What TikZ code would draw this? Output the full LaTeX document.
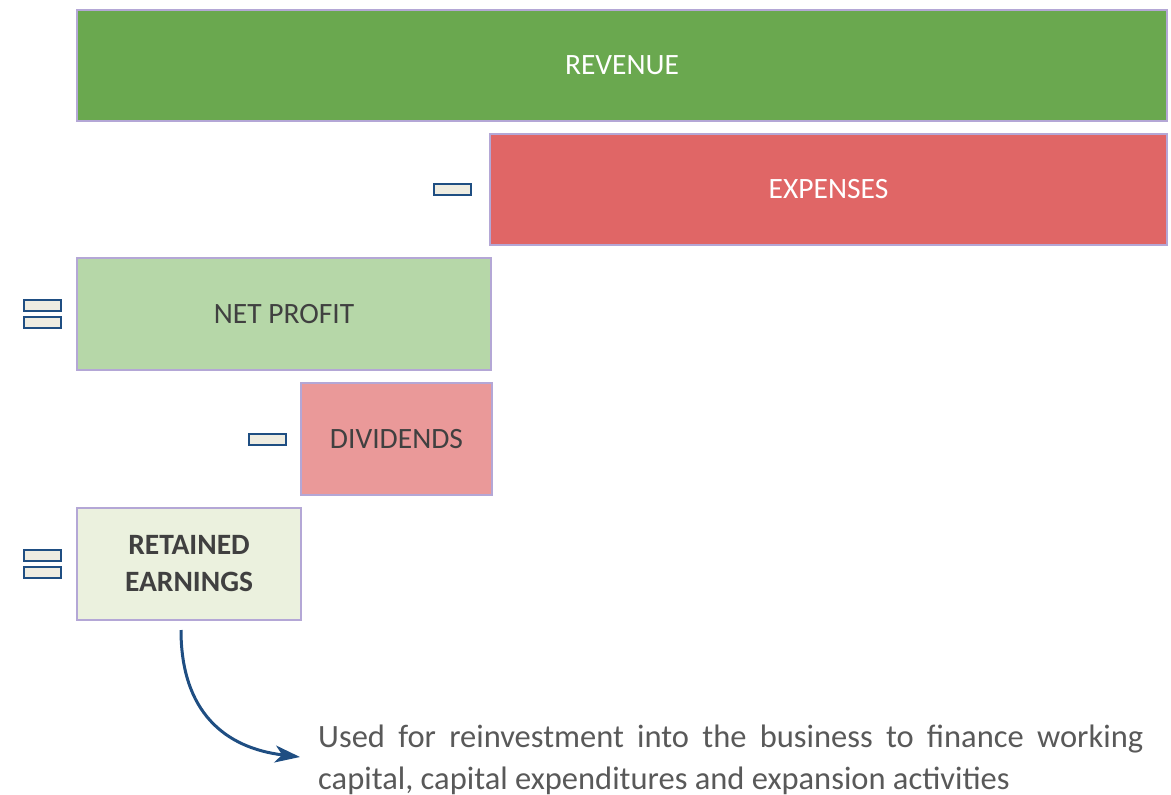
\documentclass[tikz,border=0pt]{standalone}
\usepackage{fontspec}
\setmainfont{Carlito}
\usepackage{tikz}
\usetikzlibrary{positioning,arrows.meta}
\definecolor{navy}{HTML}{1F4E82}
\definecolor{edge}{HTML}{B4A7D6}
\definecolor{grn}{HTML}{6AA84F}
\definecolor{red}{HTML}{E06666}
\definecolor{paleg}{HTML}{B6D7A8}
\definecolor{paler}{HTML}{EA9999}
\definecolor{cream}{HTML}{EBF1DE}
\definecolor{pale}{HTML}{EEECE1}
\definecolor{ink}{HTML}{404040}
\definecolor{note}{HTML}{595959}
\newcommand{\fBox}{\fontsize{29.5}{37}\selectfont}
\newcommand{\fNote}{\fontsize{32.5}{42}\selectfont\hyphenpenalty=10000\exhyphenpenalty=10000}

\begin{document}
\begin{tikzpicture}[x=1pt,y=-1pt,
  box/.style={draw=edge,line width=2pt,anchor=north west,align=center,inner sep=0pt,text=ink,font=\fBox},
  sgn/.style={draw=navy,fill=pale,line width=2pt,minimum width=37pt,minimum height=11pt,inner sep=0pt}]
  \useasboundingbox (0,0) rectangle (1171,795);
  \node[box,fill=grn,text=white,minimum width=1090pt,minimum height=111pt] (rev) at (76,9) {REVENUE};
  \node[box,fill=red,text=white,minimum width=677pt,minimum height=111pt] (exp) at (489,133) {EXPENSES};
  \node[box,fill=paleg,minimum width=414pt,minimum height=112pt] (np) at (76,257) {NET PROFIT};
  \node[box,fill=paler,minimum width=191pt,minimum height=112pt] (div) at (300,382) {DIVIDENDS};
  \node[box,fill=cream,minimum width=224pt,minimum height=112pt,font=\fBox\bfseries] (ret) at (76,507) {RETAINED\\EARNINGS};
  % signs between the rows
  \node[sgn,left=17pt of exp] (minexp) {};
  \node[sgn,left=13pt of div] (mindiv) {};
  \node[sgn,left=14pt of np,yshift=8.5pt] (eqnpa) {};
  \node[sgn,below=4pt of eqnpa] (eqnpb) {};
  \node[sgn,left=14pt of ret,yshift=8.5pt] (eqreta) {};
  \node[sgn,below=4pt of eqreta] (eqretb) {};
  % what the retained part is used for
  \node[anchor=north west,inner sep=0pt,text width=825pt,align=justify,text=note,font=\fNote] (use) at (318,725)
    {Used for reinvestment into the business to finance working capital, capital expenditures and expansion activities};
  \coordinate (from) at ([xshift=-8pt,yshift=-9pt]ret.south);
  \coordinate (to) at ([xshift=-18pt,yshift=-32pt]use.north west);
  \draw[-{Stealth[length=25pt,width=17pt,inset=7pt]},line width=3pt,navy] (from) .. controls ++(0,82) and ++(-75,-9) .. (to);
\end{tikzpicture}
\end{document}
